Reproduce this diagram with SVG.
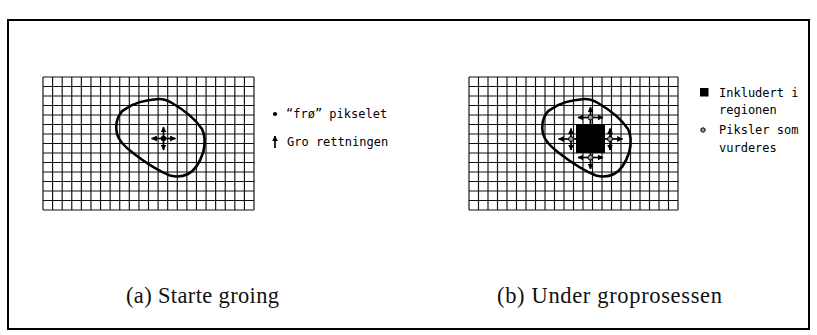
<svg xmlns="http://www.w3.org/2000/svg" width="817" height="335" viewBox="0 0 817 335">
<style>
.grid{fill:none;stroke:#111;stroke-width:1.15}
.blob{fill:none;stroke:#000;stroke-width:2.6;stroke-linejoin:round}
.arr{stroke:#000;stroke-width:1.7;fill:none}
.leg{font-family:"DejaVu Sans Mono","Liberation Mono",monospace;font-size:12px;fill:#000}
.cap{font-family:"Liberation Serif","DejaVu Serif",serif;font-size:22.5px;fill:#111}
.seed{fill:#999;stroke:#000;stroke-width:1}
</style>
<defs>
<marker id="ah" viewBox="0 0 10 10" refX="9" refY="5" markerWidth="6" markerHeight="6" orient="auto-start-reverse" markerUnits="userSpaceOnUse">
<path d="M0,0 L10,5 L0,10 z" fill="#000"/>
</marker>
<path id="gridpath" d="M0,0 H211 M0,9.5 H211 M0,19 H211 M0,28.5 H211 M0,38 H211 M0,47.5 H211 M0,57 H211 M0,66.5 H211 M0,76 H211 M0,85.5 H211 M0,95 H211 M0,104.5 H211 M0,114 H211 M0,123.5 H211 M0,133 H211 M0,0 V133 M9.59,0 V133 M19.18,0 V133 M28.77,0 V133 M38.36,0 V133 M47.95,0 V133 M57.55,0 V133 M67.14,0 V133 M76.73,0 V133 M86.32,0 V133 M95.91,0 V133 M105.5,0 V133 M115.09,0 V133 M124.68,0 V133 M134.27,0 V133 M143.86,0 V133 M153.45,0 V133 M163.05,0 V133 M172.64,0 V133 M182.23,0 V133 M191.82,0 V133 M201.41,0 V133 M211,0 V133"/>
<path id="blobpath" d="M126.7,108.3 C134,103 146,100 158.3,99 C163,98.8 167,100 172,103 C184,110 196,120 202,129 C206,137 205,145 203.3,152 C200,162 196,170 188,174 C182,177 176,177 170,175.5 C158,171 146,163 133.3,153.3 C125,147 119,141 117,134 C115,126 117,118 120,114 C122,111 124,109.5 126.7,108.3 Z"/>
</defs>
<rect x="8" y="20" width="801" height="309" fill="#fff" stroke="#000" stroke-width="2"/>
<g id="panel-a">
<use href="#gridpath" class="grid" x="43" y="77"/>
<use href="#blobpath" class="blob"/>
<g id="seed-a">
<line class="arr" x1="163.5" y1="138.5" x2="151.5" y2="138.5" marker-end="url(#ah)"/>
<line class="arr" x1="163.5" y1="138.5" x2="175.5" y2="138.5" marker-end="url(#ah)"/>
<line class="arr" x1="163.5" y1="138.5" x2="163.5" y2="127" marker-end="url(#ah)"/>
<line class="arr" x1="163.5" y1="138.5" x2="163.5" y2="150" marker-end="url(#ah)"/>
<circle cx="163.5" cy="138.5" r="2.8" fill="#000"/>
</g>
</g>
<g id="legend-a">
<circle cx="275" cy="114" r="2.1" fill="#000"/>
<text class="leg" x="286" y="118">“frø” pikselet</text>
<line class="arr" x1="275" y1="148" x2="275" y2="136" stroke-width="1.3" marker-end="url(#ah)"/>
<text class="leg" x="287" y="146">Gro rettningen</text>
</g>
<g id="panel-b">
<use href="#gridpath" class="grid" x="469" y="77" transform="translate(469 77) scale(0.9905 1) translate(-469 -77)"/>
<use href="#blobpath" class="blob" x="426" y="0"/>
<rect x="576" y="124" width="29" height="29" fill="#000"/>
<g id="cluster-top">
<line class="arr" x1="590.5" y1="117.5" x2="578" y2="117.5" marker-end="url(#ah)"/>
<line class="arr" x1="590.5" y1="117.5" x2="603" y2="117.5" marker-end="url(#ah)"/>
<line class="arr" x1="590.5" y1="117.5" x2="590.5" y2="107" marker-end="url(#ah)"/>
<line class="arr" x1="590.5" y1="117.5" x2="590.5" y2="127"/>
<circle class="seed" cx="590.5" cy="117.5" r="2.5"/>
</g>
<g id="cluster-left">
<line class="arr" x1="571" y1="139" x2="558.5" y2="139" marker-end="url(#ah)"/>
<line class="arr" x1="571" y1="139" x2="580" y2="139"/>
<line class="arr" x1="571" y1="139" x2="571" y2="128.5" marker-end="url(#ah)"/>
<line class="arr" x1="571" y1="139" x2="571" y2="150" marker-end="url(#ah)"/>
<circle class="seed" cx="571" cy="139" r="2.5"/>
</g>
<g id="cluster-right">
<line class="arr" x1="610" y1="139" x2="601" y2="139"/>
<line class="arr" x1="610" y1="139" x2="622.5" y2="139" marker-end="url(#ah)"/>
<line class="arr" x1="610" y1="139" x2="610" y2="128.5" marker-end="url(#ah)"/>
<line class="arr" x1="610" y1="139" x2="610" y2="150" marker-end="url(#ah)"/>
<circle class="seed" cx="610" cy="139" r="2.5"/>
</g>
<g id="cluster-bottom">
<line class="arr" x1="590.5" y1="157.5" x2="578" y2="157.5" marker-end="url(#ah)"/>
<line class="arr" x1="590.5" y1="157.5" x2="603" y2="157.5" marker-end="url(#ah)"/>
<line class="arr" x1="590.5" y1="157.5" x2="590.5" y2="150"/>
<line class="arr" x1="590.5" y1="157.5" x2="590.5" y2="169" marker-end="url(#ah)"/>
<circle class="seed" cx="590.5" cy="157.5" r="2.5"/>
</g>
</g>
<g id="legend-b">
<rect x="700" y="88" width="8.5" height="8.5" fill="#000"/>
<text class="leg" x="719" y="97">Inkludert i</text>
<text class="leg" x="719" y="114">regionen</text>
<circle class="seed" cx="703" cy="130" r="2.2"/>
<text class="leg" x="719" y="134">Piksler som</text>
<text class="leg" x="719" y="152">vurderes</text>
</g>
<g id="captions">
<text class="cap" x="126" y="303" textLength="153">(a) Starte groing</text>
<text class="cap" x="497" y="303" textLength="225">(b) Under groprosessen</text>
</g>
</svg>
